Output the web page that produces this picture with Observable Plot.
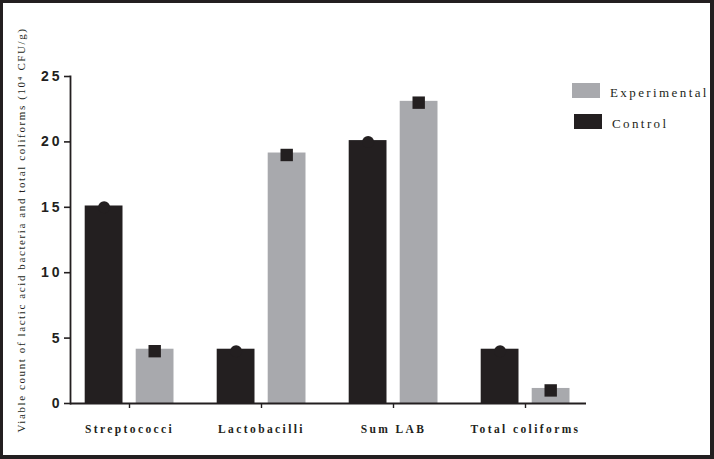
<!DOCTYPE html>
<html>
<head>
<meta charset="utf-8">
<script src="https://cdn.jsdelivr.net/npm/d3@7"></script>
<script src="https://cdn.jsdelivr.net/npm/@observablehq/plot@0.6"></script>
<style>
  html, body { margin: 0; padding: 0; background: #fff; }
  #wrap { position: relative; width: 714px; height: 459px; overflow: hidden; background: #fff; }
  #border { position: absolute; left: 0; top: 0; width: 714px; height: 459px; box-sizing: border-box;
    border-style: solid; border-color: #231f20; border-width: 3px 4px 4px 3px; pointer-events: none; }
  .legend-row { position: absolute; display: flex; align-items: flex-start; }
  .swatch { width: 28px; height: 15px; }
  .legend-text { font-family: "Liberation Serif", serif; font-size: 13px; letter-spacing: 2.4px;
    color: #231f20; line-height: 15px; padding-top: 2px; margin-left: 10px; white-space: nowrap; }
  g[aria-label="y-axis tick label"] text { letter-spacing: 3px; }
  g[aria-label="x-axis tick label"] text { letter-spacing: 2.4px; }
</style>
</head>
<body>
<div id="wrap"></div>
<script>
const categories = ["Streptococci", "Lactobacilli", "Sum LAB", "Total coliforms"];
const seriesNames = ["Experimental", "Control"];
const controlValues = [15.1, 4.15, 20.1, 4.15];
const experimentalValues = [4.15, 19.15, 23.1, 1.15];
const controlPoints = [15, 4, 20, 4];
const experimentalPoints = [4, 19, 23, 1];
const yTicks = [0, 5, 10, 15, 20, 25];
const yTitle = "Viable count of lactic acid bacteria and total coliforms (10\u2074 CFU/g)";

const dark = "#231f20";
const gray = "#a8a9ad";
const seriesColors = {Experimental: gray, Control: dark};

const rows = categories.map((c, i) => ({
  category: c,
  control: controlValues[i],
  experimental: experimentalValues[i],
  controlPt: controlPoints[i],
  expPt: experimentalPoints[i]
}));

const chart = Plot.plot({
  width: 714,
  height: 459,
  marginTop: 76,
  marginBottom: 56,
  marginLeft: 70,
  marginRight: 128,
  style: {background: "transparent", color: dark, overflow: "visible"},
  x: {domain: categories, range: [61.7, 592.7], padding: 0, axis: null},
  y: {domain: [0, 25], axis: null},
  marks: [
    Plot.barY(rows, {x: "category", y: "control", fill: dark, insetLeft: 21.7, insetRight: 72.5}),
    Plot.barY(rows, {x: "category", y: "experimental", fill: gray, insetLeft: 72.7, insetRight: 21.5}),
    Plot.dot(rows, {x: "category", y: "controlPt", r: 6, fill: dark, stroke: null, dx: -25.4}),
    Plot.dot(rows, {x: "category", y: "expPt", symbol: "square", r: 7, fill: dark, stroke: null, dx: 25.2}),
    Plot.ruleY([0], {stroke: dark, strokeWidth: 1.8}),
    Plot.frame({anchor: "left", stroke: dark, strokeWidth: 1.8}),
    Plot.axisY({ticks: yTicks, tickSize: 6, tickPadding: 2, tickFormat: d => String(d),
      fontSize: 14, fontWeight: "bold", fontFamily: "Liberation Sans", strokeWidth: 1.6, label: null}),
    Plot.axisX({tickSize: 5, tickPadding: 16, label: null, fontFamily: "Liberation Serif",
      fontWeight: "bold", fontSize: 11.5, strokeWidth: 1.4}),
    Plot.text([yTitle], {frameAnchor: "left", dx: -49, dy: -10, rotate: -90, textAnchor: "middle",
      fontFamily: "Liberation Serif", fontSize: 11, fill: dark})
  ]
});

chart.querySelectorAll("text").forEach(t => {
  if (t.textContent === yTitle) t.style.letterSpacing = "1.6px";
});

const wrap = document.getElementById("wrap");
wrap.appendChild(chart);

const legendPos = {Experimental: {left: 572, top: 83}, Control: {left: 574, top: 114}};
seriesNames.forEach(name => {
  const row = document.createElement("div");
  row.className = "legend-row";
  row.style.left = legendPos[name].left + "px";
  row.style.top = legendPos[name].top + "px";
  const sw = document.createElement("div");
  sw.className = "swatch";
  sw.style.background = seriesColors[name];
  const tx = document.createElement("div");
  tx.className = "legend-text";
  tx.textContent = name;
  row.appendChild(sw);
  row.appendChild(tx);
  wrap.appendChild(row);
});

const border = document.createElement("div");
border.id = "border";
wrap.appendChild(border);
</script>
</body>
</html>
